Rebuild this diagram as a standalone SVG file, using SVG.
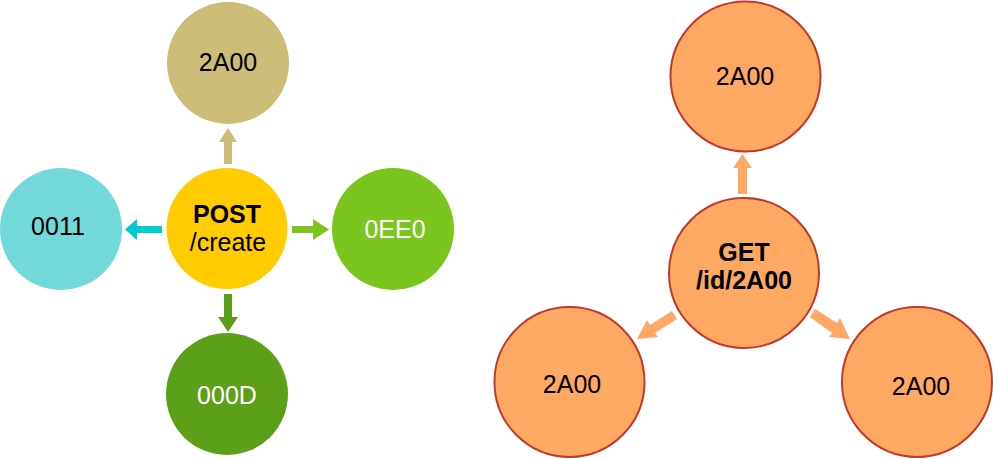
<svg xmlns="http://www.w3.org/2000/svg" width="993" height="459" viewBox="0 0 993 459">
<style>
text{font-family:"Liberation Sans",Arial,sans-serif;font-size:25px;text-anchor:middle;fill:#000}
.b{font-weight:bold}
.w{fill:#fff}
.g{fill:#FDA863;stroke:#C0392B;stroke-width:2}
</style>
<rect width="993" height="459" fill="#fff"/>
<g id="connectors">
<polygon points="224,164 224,142 219,142 228,128 237,142 232,142 232,164" fill="#CBBD78"/>
<polygon points="162,226 137,226 137,219 125,229.5 137,240 137,233 162,233" fill="#00CCCC"/>
<polygon points="292,226 313,226 313,219 329,229.5 313,240 313,233 292,233" fill="#7DC324"/>
<polygon points="224,294 224,317 218,317 228,332 238,317 232,317 232,294" fill="#5A9E1A"/>
<polygon points="738,194 738,168 733,168 742.5,154 752,168 747,168 747,194" fill="#FDA863"/>
<g fill="#FDA863">
<polygon points="672,311 650,325 647,320 637,339 658,337 655,333 677,319"/>
<polygon points="815,309 837,323 840,318 850,339 829,337 832,333 810,317"/>
</g>
</g>
<g id="post"><circle cx="227" cy="228.5" r="60.5" fill="#FFCC00"/><text x="227" y="223" class="b">POST</text><text x="228" y="251">/create</text></g>
<g id="n2a00"><circle cx="228" cy="63" r="61" fill="#CBBD78"/><text x="228" y="71">2A00</text></g>
<g id="n0011"><circle cx="61" cy="229" r="61" fill="#72D9D8"/><text x="58" y="235">0011</text></g>
<g id="n0ee0"><circle cx="393" cy="229" r="61" fill="#7AC51E"/><text x="395" y="238" class="w">0EE0</text></g>
<g id="n000d"><circle cx="227" cy="394" r="61" fill="#5CA019"/><text x="227" y="404" class="w">000D</text></g>
<g id="get"><circle cx="744" cy="273" r="75" class="g"/><text x="744" y="261" class="b">GET</text><text x="744" y="289" class="b">/id/2A00</text></g>
<g id="g_top"><circle cx="745.5" cy="76.5" r="75" class="g"/><text x="745" y="85">2A00</text></g>
<g id="g_left"><circle cx="569.5" cy="382" r="75" class="g"/><text x="572" y="393">2A00</text></g>
<g id="g_right"><circle cx="917" cy="382" r="75" class="g"/><text x="921" y="395">2A00</text></g>
</svg>
